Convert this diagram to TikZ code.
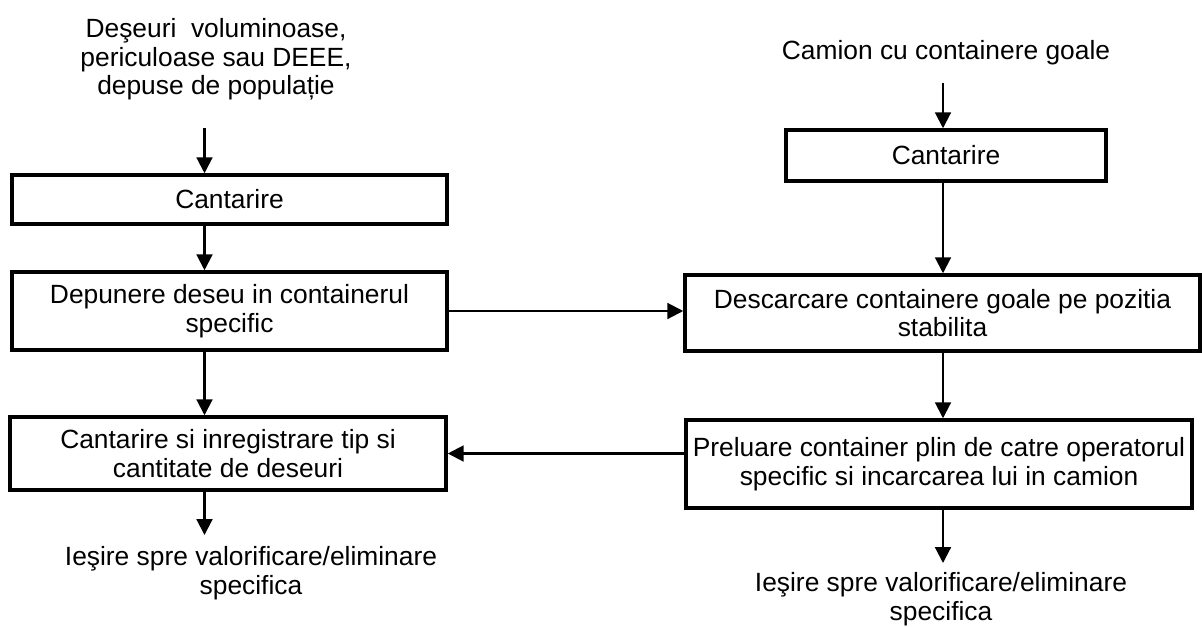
\documentclass[tikz,border=0pt]{standalone}
\usepackage{fontspec}
\setmainfont{Liberation Sans}
\usetikzlibrary{arrows.meta, positioning, calc}

\begin{document}
\begin{tikzpicture}[
    font=\fontsize{15}{16.2}\selectfont,
    box/.style={draw, line width=2pt, align=center, inner xsep=2pt, inner ysep=2pt},
    flow/.style={-{Triangle[length=9pt, width=9pt]}, line width=1.2pt}]
  \useasboundingbox (0,0) rectangle (24.04,-12.52);

  % Left column: waste brought by the population
  \node[align=center] (lsrc) at (4.32,-1.19)
    {Deşeuri\ \ voluminoase,\\periculoase sau DEEE,\\depuse de populație};
  \node[box, minimum width=8.70cm, minimum height=0.98cm] (lcant) at (4.59,-3.99) {Cantarire};
  \node[box, minimum width=8.70cm, minimum height=1.56cm] (ldep) at (4.59,-6.22)
    {Depunere deseu in containerul\\specific};
  \node[box, minimum width=8.72cm, minimum height=1.46cm] (lreg) at (4.56,-9.07)
    {Cantarire si inregistrare tip si\\cantitate de deseuri};
  \node[align=center] (lout) at (5.02,-11.46) {Ieşire spre valorificare/eliminare\\specifica};

  \coordinate (lstart) at (4.09,-2.56);
  \coordinate (lend) at (4.09,-10.70);
  \draw[flow] (lstart) -- (lstart |- lcant.north);
  \draw[flow] (lcant.south -| lstart) -- (ldep.north -| lstart);
  \draw[flow] (ldep.south -| lstart) -- (lreg.north -| lstart);
  \draw[flow] (lreg.south -| lstart) -- (lend);

  % Right column: truck with empty containers
  \node (rsrc) at (18.92,-1.06) {Camion cu containere goale};
  \node[box, minimum width=6.40cm, minimum height=1.02cm] (rcant) at (18.92,-3.11) {Cantarire};
  \node[box, minimum width=10.30cm, minimum height=1.52cm] (rdesc) at (18.85,-6.26)
    {Descarcare containere goale pe pozitia\\stabilita};
  \node[box, minimum width=10.12cm, minimum height=1.76cm] (rprel) at (18.78,-9.28)
    {Preluare container plin de catre operatorul\\specific si incarcarea lui in camion};
  \node[align=center] (rout) at (18.82,-11.98) {Ieşire spre valorificare/eliminare\\specifica};

  \coordinate (rstart) at (18.86,-1.66);
  \coordinate (rend) at (18.86,-11.26);
  \draw[flow] (rstart) -- (rstart |- rcant.north);
  \draw[flow] (rcant.south -| rstart) -- (rdesc.north -| rstart);
  \draw[flow] (rdesc.south -| rstart) -- (rprel.north -| rstart);
  \draw[flow] (rprel.south -| rstart) -- (rend);

  % Links between the two columns
  \draw[flow] (ldep.east) -- (ldep.east -| rdesc.west);
  \draw[flow] (rprel.west |- lreg.east) -- (lreg.east);
\end{tikzpicture}
\end{document}
